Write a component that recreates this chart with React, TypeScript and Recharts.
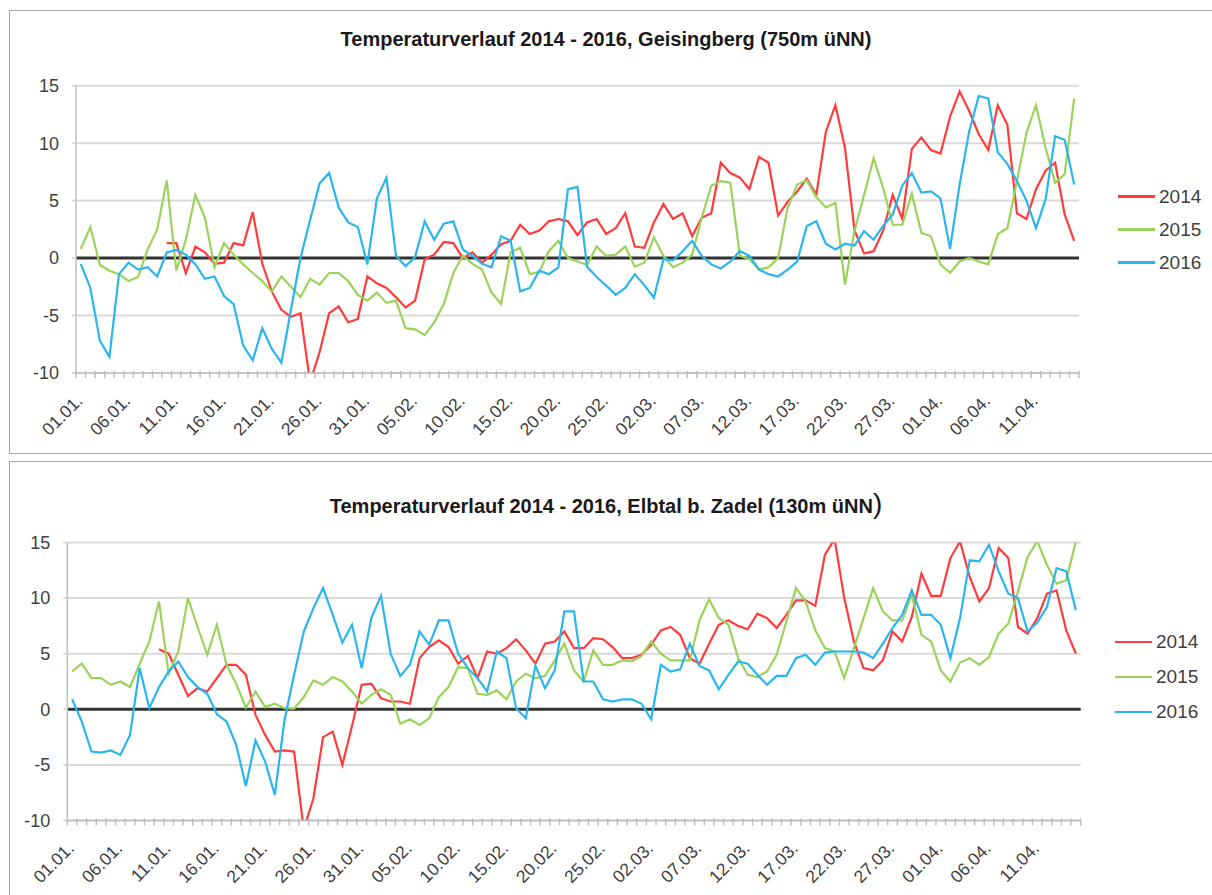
import { LineChart, Line, XAxis, YAxis, CartesianGrid, ReferenceLine } from "recharts";

// 01.01. bis 15.04. (105 Tage)
const months: [string, number][] = [["01", 31], ["02", 28], ["03", 31], ["04", 15]];
const days: string[] = [];
months.forEach(([m, n]) => {
  for (let d = 1; d <= n; d++) days.push(`${String(d).padStart(2, "0")}.${m}.`);
});

const yTicks = [-10, -5, 0, 5, 10, 15];

// Geisingberg (750m üNN)
const geis2014 = [
  null, null, null, null, null, null, null, null, null, 1.3,
  1.3, -1.3, 1.0, 0.5, -0.5, -0.4, 1.3, 1.1, 4.0, -0.5,
  -2.9, -4.5, -5.1, -4.8, -10.8, -8.2, -4.8, -4.2, -5.6, -5.3,
  -1.6, -2.2, -2.6, -3.4, -4.3, -3.7, -0.1, 0.3, 1.4, 1.3,
  0.0, 0.5, -0.4, 0.3, 1.2, 1.5, 2.9, 2.1, 2.4, 3.2,
  3.4, 3.2, 2.0, 3.1, 3.4, 2.1, 2.6, 3.9, 1.0, 0.9,
  3.1, 4.7, 3.4, 3.9, 1.9, 3.5, 3.9, 8.3, 7.4, 7.0,
  6.0, 8.8, 8.3, 3.7, 4.9, 5.8, 6.9, 5.5, 11.0, 13.3,
  9.6, 2.4, 0.4, 0.6, 2.4, 5.5, 3.4, 9.5, 10.5, 9.4,
  9.1, 12.3, 14.5, 12.8, 10.8, 9.4, 13.3, 11.6, 3.9, 3.4,
  6.0, 7.6, 8.3, 3.8, 1.5,
];
const geis2015 = [
  0.8, 2.7, -0.6, -1.1, -1.4, -2.0, -1.65, 0.75, 2.5, 6.75,
  -1.1, 1.6, 5.5, 3.5, -0.8, 1.3, 0.3, -0.55, -1.3, -2.0,
  -2.9, -1.6, -2.5, -3.4, -1.8, -2.3, -1.3, -1.3, -2.0, -3.2,
  -3.7, -3.0, -3.9, -3.7, -6.1, -6.2, -6.7, -5.6, -4.0, -1.3,
  0.2, -0.5, -1.0, -3.0, -4.0, 0.5, 0.9, -1.4, -1.2, 0.6,
  1.5, 0.0, -0.3, -0.6, 1.0, 0.2, 0.3, 1.0, -0.75, -0.4,
  1.8, 0.2, -0.8, -0.4, 0.3, 3.5, 6.3, 6.7, 6.55, 0.2,
  -0.1, -1.0, -0.8, 0.0, 4.4, 6.4, 6.75, 5.3, 4.4, 4.8,
  -2.3, 2.35, 5.5, 8.7, 6.1, 2.9, 2.9, 5.6, 2.2, 1.9,
  -0.55, -1.3, -0.3, 0.0, -0.3, -0.55, 2.1, 2.6, 6.7, 10.9,
  13.3, 9.6, 6.55, 7.3, 13.9,
];
const geis2016 = [
  -0.5, -2.6, -7.2, -8.6, -1.4, -0.4, -1.0, -0.8, -1.6, 0.5,
  0.7, 0.3, -0.55, -1.8, -1.6, -3.3, -4.0, -7.6, -8.9, -6.1,
  -7.9, -9.1, -4.5, 0.0, 3.3, 6.5, 7.4, 4.4, 3.1, 2.7,
  -0.55, 5.2, 7.0, 0.2, -0.7, 0.1, 3.2, 1.6, 3.0, 3.2,
  0.75, 0.2, -0.5, -0.8, 1.9, 1.5, -2.9, -2.6, -1.1, -1.4,
  -0.8, 6.0, 6.2, -0.75, -1.65, -2.4, -3.2, -2.6, -1.4, -2.35,
  -3.45, -0.1, -0.2, 0.6, 1.5, 0.2, -0.55, -0.9, -0.3, 0.6,
  0.2, -1.0, -1.4, -1.6, -1.0, -0.3, 2.8, 3.2, 1.25, 0.75,
  1.25, 1.1, 2.35, 1.6, 2.8, 3.8, 6.3, 7.4, 5.7, 5.8,
  5.2, 0.8, 6.4, 11.0, 14.1, 13.9, 9.2, 8.2, 6.7, 5.0,
  2.6, 5.1, 10.6, 10.3, 6.4,
];

// Elbtal b. Zadel (130m üNN)
const elb2014 = [
  null, null, null, null, null, null, null, null, null, 5.4,
  5.0, 3.1, 1.2, 1.9, 1.6, 2.8, 4.0, 4.0, 3.1, -0.5,
  -2.3, -3.8, -3.7, -3.8, -10.8, -8.0, -2.5, -2.0, -5.0, -1.5,
  2.2, 2.3, 1.0, 0.7, 0.7, 0.5, 4.6, 5.6, 6.2, 5.6,
  4.1, 4.8, 2.8, 5.2, 5.0, 5.5, 6.3, 5.3, 4.1, 5.9,
  6.1, 7.0, 5.5, 5.5, 6.4, 6.3, 5.6, 4.6, 4.6, 4.9,
  5.8, 7.1, 7.4, 6.7, 4.6, 4.1, 5.9, 7.6, 8.0, 7.5,
  7.2, 8.6, 8.2, 7.3, 8.5, 9.8, 9.8, 9.3, 13.9, 15.3,
  10.0, 6.1, 3.7, 3.5, 4.4, 7.0, 6.1, 8.3, 12.2, 10.2,
  10.2, 13.6, 15.1, 11.9, 9.7, 10.9, 14.5, 13.6, 7.4, 6.8,
  8.2, 10.4, 10.7, 7.1, 5.0,
];
const elb2015 = [
  3.4, 4.1, 2.8, 2.8, 2.2, 2.5, 2.0, 4.1, 6.1, 9.7,
  3.2, 5.2, 10.0, 7.4, 4.9, 7.6, 4.0, 2.3, 0.15, 1.6,
  0.2, 0.5, 0.1, 0.05, 1.1, 2.6, 2.2, 2.9, 2.5, 1.6,
  0.5, 1.3, 1.8, 1.3, -1.3, -0.9, -1.4, -0.8, 1.1, 2.0,
  3.8, 3.7, 1.4, 1.3, 1.7, 0.9, 2.5, 3.2, 2.8, 3.0,
  4.4, 5.9, 3.5, 2.5, 5.3, 4.0, 4.0, 4.4, 4.3, 4.8,
  6.1, 5.0, 4.4, 4.4, 4.4, 8.0, 9.9, 8.2, 7.6, 4.6,
  3.1, 2.9, 3.4, 4.9, 7.9, 10.9, 9.7, 7.1, 5.5, 5.2,
  2.8, 5.5, 8.2, 10.9, 8.8, 8.0, 8.0, 10.3, 6.7, 6.1,
  3.5, 2.5, 4.2, 4.6, 4.0, 4.7, 6.8, 7.7, 10.6, 13.7,
  15.1, 13.0, 11.3, 11.6, 15.1,
];
const elb2016 = [
  0.9, -1.1, -3.8, -3.9, -3.7, -4.1, -2.3, 3.7, 0.1, 2.0,
  3.4, 4.3, 2.9, 2.0, 1.4, -0.45, -1.1, -3.2, -6.9, -2.8,
  -4.7, -7.7, -1.0, 3.1, 7.0, 9.1, 10.9, 8.5, 6.0, 7.6,
  3.7, 8.2, 10.2, 5.0, 3.0, 4.0, 7.0, 5.8, 8.0, 8.0,
  5.0, 3.7, 2.8, 1.6, 5.2, 4.6, 0.1, -0.8, 3.9, 1.9,
  3.5, 8.8, 8.8, 2.5, 2.5, 0.9, 0.7, 0.9, 0.9, 0.5,
  -0.9, 4.0, 3.4, 3.6, 5.9, 3.9, 3.5, 1.8, 3.1, 4.3,
  4.1, 3.1, 2.2, 3.0, 3.0, 4.6, 4.9, 4.0, 5.1, 5.2,
  5.2, 5.2, 5.1, 4.6, 5.9, 7.3, 8.5, 10.7, 8.5, 8.5,
  7.6, 4.6, 8.2, 13.4, 13.3, 14.8, 12.4, 10.4, 10.0, 7.0,
  7.8, 9.2, 12.7, 12.4, 8.9,
];

const RED = "#ff3b3b";
const GREEN = "#9bd35a";
const BLUE = "#29b6ef";
const FONT = '"Liberation Sans", Arial, sans-serif';

const series = [
  { key: "y2014", name: "2014", color: RED },
  { key: "y2015", name: "2015", color: GREEN },
  { key: "y2016", name: "2016", color: BLUE },
];

function toRows(a: (number | null)[], b: (number | null)[], c: (number | null)[]) {
  return days.map((day, i) => ({ day, y2014: a[i], y2015: b[i], y2016: c[i] }));
}

function DayTick(props: any) {
  const { x, y, index, payload, step } = props;
  const half = step / 2;
  return (
    <g>
      <line x1={x - half} x2={x - half} y1={y - 2} y2={y + 5} stroke="#bfbfbf" strokeWidth={1.5} />
      {index === days.length - 1 && (
        <line x1={x + half} x2={x + half} y1={y - 2} y2={y + 5} stroke="#bfbfbf" strokeWidth={1.5} />
      )}
      {index % 5 === 0 && (
        <text
          transform={`translate(${x + 3},${y + 29}) rotate(-45)`}
          textAnchor="end"
          fontSize={17.5}
          fontFamily={FONT}
          fill="#404040"
        >
          {payload.value}
        </text>
      )}
    </g>
  );
}

function LegendBox({ left, top, row }: { left: number; top: number; row: number }) {
  return (
    <div style={{ position: "absolute", left, top }}>
      {series.map((s) => (
        <div key={s.key} style={{ display: "flex", alignItems: "center", height: row }}>
          <div style={{ width: 37, height: 2.5, background: s.color, marginRight: 4 }} />
          <span style={{ fontFamily: FONT, fontSize: 19, color: "#404040" }}>{s.name}</span>
        </div>
      ))}
    </div>
  );
}

interface PanelProps {
  top: number;
  height: number;
  data: ReturnType<typeof toRows>;
  margin: { top: number; right: number; left: number; bottom: number };
  step: number;
}

function Panel({ top, height, data, margin, step }: PanelProps) {
  return (
    <div style={{ position: "absolute", left: 0, top, width: 1212, height }}>
      <LineChart width={1212} height={height} data={data} margin={margin}>
        <CartesianGrid vertical={false} stroke="#d9d9d9" strokeWidth={2} />
        <XAxis
          dataKey="day"
          interval={0}
          height={70}
          tickSize={0}
          tickMargin={0}
          tickLine={false}
          padding={{ left: step / 2, right: step / 2 }}
          axisLine={{ stroke: "#bfbfbf", strokeWidth: 1.5 }}
          tick={(p: any) => <DayTick {...p} step={step} />}
        />
        <YAxis
          width={60}
          domain={[-10, 15]}
          ticks={yTicks}
          allowDataOverflow
          tickSize={4}
          tickMargin={13}
          axisLine={{ stroke: "#bfbfbf", strokeWidth: 1.5 }}
          tickLine={{ stroke: "#d9d9d9", strokeWidth: 2 }}
          tick={{ fontSize: 18, fill: "#404040", fontFamily: FONT }}
        />
        <ReferenceLine y={0} stroke="#333333" strokeWidth={3} />
        {series.map((s) => (
          <Line
            key={s.key}
            type="linear"
            dataKey={s.key}
            name={s.name}
            stroke={s.color}
            strokeWidth={2.2}
            dot={false}
            isAnimationActive={false}
          />
        ))}
      </LineChart>
    </div>
  );
}

export default function App() {
  const titleStyle: React.CSSProperties = {
    position: "absolute",
    left: 0,
    width: 1212,
    textAlign: "center",
    fontFamily: FONT,
    fontWeight: "bold",
    fontSize: 20,
    color: "#1a1a1a",
  };
  return (
    <div style={{ position: "absolute", left: 0, top: 0, width: 1212, height: 895, background: "#fff", overflow: "hidden" }}>
      <div style={{ position: "absolute", left: 9, top: 10, width: 1220, height: 442, border: "1.5px solid #a6a6a6" }} />
      <div style={{ position: "absolute", left: 9, top: 461, width: 1220, height: 450, border: "1.5px solid #a6a6a6" }} />
      <div style={{ ...titleStyle, top: 28 }}>Temperaturverlauf 2014 - 2016, Geisingberg (750m üNN)</div>
      <div style={{ ...titleStyle, top: 488 }}>
        Temperaturverlauf 2014 - 2016, Elbtal b. Zadel (130m üNN<span style={{ fontSize: 28, fontWeight: "normal" }}>)</span>
      </div>
      <Panel
        top={0}
        height={453}
        data={toRows(geis2014, geis2015, geis2016)}
        margin={{ top: 85.7, right: 133, left: 16, bottom: 10 }}
        step={(1079 - 76) / days.length}
      />
      <Panel
        top={458}
        height={437}
        data={toRows(elb2014, elb2015, elb2016)}
        margin={{ top: 84.5, right: 131.3, left: 7.3, bottom: 4.5 }}
        step={(1080.7 - 67.3) / days.length}
      />
      <LegendBox left={1118} top={180} row={33} />
      <LegendBox left={1115} top={624.5} row={35} />
    </div>
  );
}
